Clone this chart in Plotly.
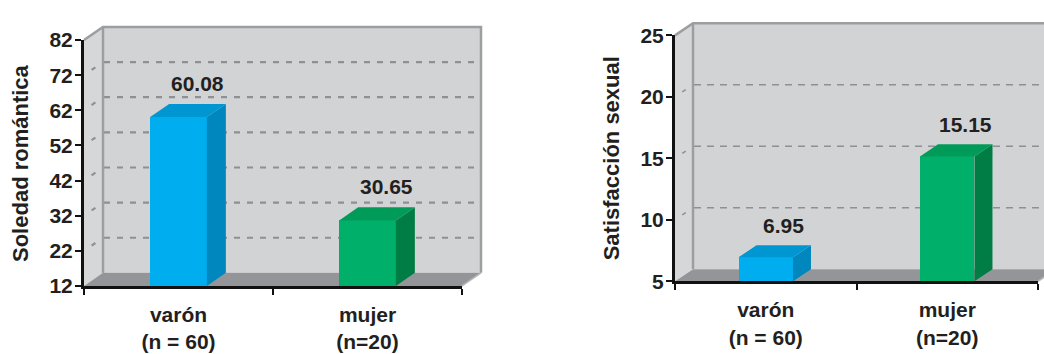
import plotly.graph_objects as go

W, H = 1044, 354

# Data
categories = ["varón", "mujer"]
group_sizes = ["(n = 60)", "(n=20)"]
soledad_romantica = [60.08, 30.65]
satisfaccion_sexual = [6.95, 15.15]
soledad_ticks = [12, 22, 32, 42, 52, 62, 72, 82]
satisfaccion_ticks = [5, 10, 15, 20, 25]

# Style
FONT = "Liberation Sans"
INK = "#231f20"
FRONT = ["#00aeef", "#00b06a"]
TOP = ["#0096d2", "#009b58"]
SIDE = ["#0087bd", "#007d44"]
WALL = "#d1d3d4"
SIDE_WALL = "#d6d7d9"
FLOOR = "#939598"
EDGE = "#9c9ea0"
GRID = "#8e9093"
BAR_W = 0.3


def bold(size):
    return dict(family=FONT, size=size, color=INK, weight="bold")


# Each panel: front box in pixels (left, right, top, bottom) and the 3-D depth offset
panels = [
    dict(values=soledad_romantica, ticks=soledad_ticks, title="Soledad romántica",
         box=(84, 462, 30, 293), depth=(19, 14), dash="6px,7px", gw=2.2,
         label_gap=7, xa="x", ya="y"),
    dict(values=satisfaccion_sexual, ticks=satisfaccion_ticks, title="Satisfacción sexual",
         box=(675, 1038, 25, 288), depth=(18, 13), dash="7px,6px", gw=1.5,
         label_gap=6, xa="x2", ya="y2"),
]


def px(x):
    return x / W


def py(y):
    return 1 - y / H


def poly(points):
    return "M " + " L ".join(f"{px(x):.5f},{py(y):.5f}" for x, y in points) + " Z"


def line_path(points):
    return "M " + " L ".join(f"{px(x):.5f},{py(y):.5f}" for x, y in points)


fig = go.Figure()
shapes = []
annotations = []
layout_axes = {}
tick_text = [f"{c}<br>{g}" for c, g in zip(categories, group_sizes)]

for k, p in enumerate(panels):
    L, R, T, B = p["box"]
    dx, dy = p["depth"]
    ticks = p["ticks"]
    y0, y1 = ticks[0], ticks[-1]
    n = len(categories)
    xs = list(range(n))
    cat_px = (R - L) / n
    unit_px = (B - T) / (y1 - y0)
    dxu = dx / cat_px
    dyu = dy / unit_px

    def ypix(v):
        return B - (v - y0) * unit_px

    # walls and floor
    shapes.append(dict(type="path", xref="paper", yref="paper", layer="below",
                       path=poly([(L + dx, T - dy), (R + dx, T - dy), (R + dx, B - dy), (L + dx, B - dy)]),
                       fillcolor=WALL, line=dict(width=0)))
    shapes.append(dict(type="path", xref="paper", yref="paper", layer="below",
                       path=poly([(L, B), (L + dx, B - dy), (L + dx, T - dy), (L, T)]),
                       fillcolor=SIDE_WALL, line=dict(width=0)))
    shapes.append(dict(type="path", xref="paper", yref="paper", layer="below",
                       path=poly([(L, B), (R, B), (R + dx, B - dy), (L + dx, B - dy)]),
                       fillcolor=FLOOR, line=dict(width=0)))
    # dashed grid on the back wall, with stubs on the side wall
    for v in ticks[1:-1]:
        yy = ypix(v)
        shapes.append(dict(type="line", xref="paper", yref="paper", layer="below",
                           x0=px(L + dx + 1), x1=px(R + dx - 2), y0=py(yy - dy), y1=py(yy - dy),
                           line=dict(color=GRID, width=p["gw"], dash=p["dash"])))
        shapes.append(dict(type="line", xref="paper", yref="paper", layer="below",
                           x0=px(L + 0.4 * dx), x1=px(L + 0.6 * dx),
                           y0=py(yy - 0.4 * dy), y1=py(yy - 0.6 * dy),
                           line=dict(color=GRID, width=p["gw"])))
    # wall edges
    shapes.append(dict(type="path", xref="paper", yref="paper", layer="below",
                       path=line_path([(L, T), (L + dx, T - dy), (R + dx, T - dy), (R + dx, B - dy)]),
                       line=dict(color=EDGE, width=2.5)))
    shapes.append(dict(type="line", xref="paper", yref="paper", layer="below",
                       x0=px(L + dx), x1=px(L + dx), y0=py(T - dy), y1=py(B - dy),
                       line=dict(color=EDGE, width=2.5)))
    shapes.append(dict(type="line", xref="paper", yref="paper", layer="below",
                       x0=px(R), x1=px(R + dx), y0=py(B), y1=py(B - dy),
                       line=dict(color="#b5b6b8", width=1.5)))

    # bars (front faces)
    fig.add_trace(go.Bar(x=xs, y=p["values"], width=BAR_W, marker=dict(color=FRONT, line=dict(width=0)),
                         xaxis=p["xa"], yaxis=p["ya"], showlegend=False, hoverinfo="skip"))

    # top and side faces of each bar, with its value label
    for i, v in enumerate(p["values"]):
        xl, xr = i - BAR_W / 2, i + BAR_W / 2
        side = (f"M {xr},{y0} L {xr + dxu},{y0 + dyu} L {xr + dxu},{v + dyu} L {xr},{v} Z")
        top = (f"M {xl},{v} L {xl + dxu},{v + dyu} L {xr + dxu},{v + dyu} L {xr},{v} Z")
        shapes.append(dict(type="path", xref=p["xa"], yref=p["ya"], layer="above", path=side,
                           fillcolor=SIDE[i], line=dict(width=0)))
        shapes.append(dict(type="path", xref=p["xa"], yref=p["ya"], layer="above", path=top,
                           fillcolor=TOP[i], line=dict(width=0)))
        annotations.append(dict(xref=p["xa"], yref=p["ya"], x=i + dxu, y=v + dyu,
                                yshift=p["label_gap"], yanchor="bottom", xanchor="center",
                                text=f"{v:.2f}", showarrow=False, font=bold(21)))

    annotations.append(dict(xref=p["xa"] + " domain", yref=p["ya"] + " domain", x=0, y=0.5,
                            xshift=-64, xanchor="center", yanchor="middle", textangle=-90,
                            text=p["title"], showarrow=False, font=bold(22)))

    suffix = "" if k == 0 else str(k + 1)
    layout_axes["xaxis" + suffix] = dict(
        domain=[px(L), px(R)], range=[-0.5, n - 0.5], anchor=p["ya"],
        tickmode="array", tickvals=xs, ticktext=tick_text, ticks="",
        ticklabelstandoff=8,
        minor=dict(tickmode="array", tickvals=[-0.5 + j for j in range(n + 1)],
                   ticks="outside", ticklen=6, tickwidth=2, tickcolor="#111111"),
        showline=True, linecolor="#111111", linewidth=3, showgrid=False, zeroline=False,
        tickfont=bold(21), fixedrange=True)
    layout_axes["yaxis" + suffix] = dict(
        domain=[py(B), py(T)], range=[y0, y1], anchor=p["xa"],
        tickmode="array", tickvals=ticks, ticks="outside", ticklen=6, tickwidth=2,
        tickcolor="#111111", ticklabelstandoff=-2,
        showline=True, linecolor="#111111", linewidth=3, showgrid=False, zeroline=False,
        tickfont=bold(21), fixedrange=True)

fig.update_layout(
    width=W, height=H, margin=dict(l=0, r=0, t=0, b=0),
    paper_bgcolor="white", plot_bgcolor="rgba(0,0,0,0)",
    shapes=shapes, annotations=annotations, bargap=0, showlegend=False,
    **layout_axes,
)

fig.write_html("out.html")
